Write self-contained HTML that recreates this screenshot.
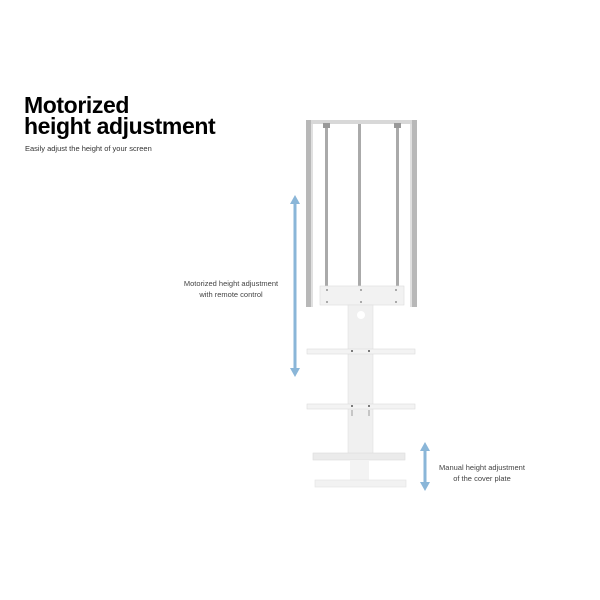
<!DOCTYPE html>
<html><head><style>
body{margin:0;width:600px;height:600px;background:#fff;position:relative;overflow:hidden;font-family:"Liberation Sans",sans-serif}
.t{position:absolute;left:24px;top:95px;font-weight:900;font-size:23px;line-height:21px;color:#000;letter-spacing:-0.4px}
.s{position:absolute;left:25px;top:144px;font-size:7.5px;color:#333}
.l{position:absolute;font-size:7.5px;color:#444;text-align:center;line-height:11px}
</style></head><body>
<div class="t">Motorized<br>height adjustment</div>
<div class="s">Easily adjust the height of your screen</div>
<div class="l" style="left:178px;top:278px;width:106px">Motorized height adjustment<br>with remote control</div>
<div class="l" style="left:432px;top:462px;width:100px">Manual height adjustment<br>of the cover plate</div>
<svg width="600" height="600" style="position:absolute;left:0;top:0">
<g fill="#8ab6d8" stroke="#8ab6d8">
<line x1="295" y1="200" x2="295" y2="372" stroke-width="3"/>
<polygon points="295,195 290,204 300,204" stroke="none"/>
<polygon points="295,377 290,368 300,368" stroke="none"/>
<line x1="425" y1="447" x2="425" y2="486" stroke-width="3"/>
<polygon points="425,442 420,451 430,451" stroke="none"/>
<polygon points="425,491 420,482 430,482" stroke="none"/>
</g>
<rect x="306" y="120" width="111" height="4" fill="#d8d8d8"/>
<rect x="306" y="120" width="5" height="187" fill="#b8b8b8"/>
<rect x="412" y="120" width="5" height="187" fill="#b8b8b8"/>
<rect x="311" y="124" width="2" height="183" fill="#e0e0e0"/>
<rect x="410" y="124" width="2" height="183" fill="#e0e0e0"/>
<rect x="325" y="124" width="3" height="162" fill="#aaa"/>
<rect x="358" y="124" width="3" height="162" fill="#aaa"/>
<rect x="396" y="124" width="3" height="162" fill="#aaa"/>
<rect x="323" y="123" width="7" height="5" fill="#999"/>
<rect x="394" y="123" width="7" height="5" fill="#999"/>
<rect x="320" y="286" width="84" height="19" fill="#f2f2f2" stroke="#ddd" stroke-width="0.6"/>
<g fill="#777"><circle cx="327" cy="290" r="0.9"/><circle cx="361" cy="290" r="0.9"/><circle cx="396" cy="290" r="0.9"/><circle cx="327" cy="302" r="0.9"/><circle cx="361" cy="302" r="0.9"/><circle cx="396" cy="302" r="0.9"/></g>
<rect x="348" y="305" width="25" height="150" fill="#f0f0f0" stroke="#e0e0e0" stroke-width="0.6"/>
<circle cx="361" cy="315" r="4" fill="#fff"/>
<rect x="307" y="349" width="108" height="5" fill="#f3f3f3" stroke="#ddd" stroke-width="0.6"/>
<rect x="307" y="404" width="108" height="5" fill="#f3f3f3" stroke="#ddd" stroke-width="0.6"/>
<g fill="#555"><circle cx="352" cy="351" r="1"/><circle cx="369" cy="351" r="1"/><circle cx="352" cy="406" r="1"/><circle cx="369" cy="406" r="1"/></g>
<g stroke="#888" stroke-width="0.8"><line x1="352" y1="410" x2="352" y2="416"/><line x1="369" y1="410" x2="369" y2="416"/></g>
<rect x="313" y="453" width="92" height="7" fill="#ebebeb" stroke="#ddd" stroke-width="0.6"/>
<rect x="350" y="460" width="19" height="20" fill="#f3f3f3"/>
<rect x="315" y="480" width="91" height="7" fill="#f2f2f2" stroke="#e2e2e2" stroke-width="0.6"/>
</svg>
</body></html>
